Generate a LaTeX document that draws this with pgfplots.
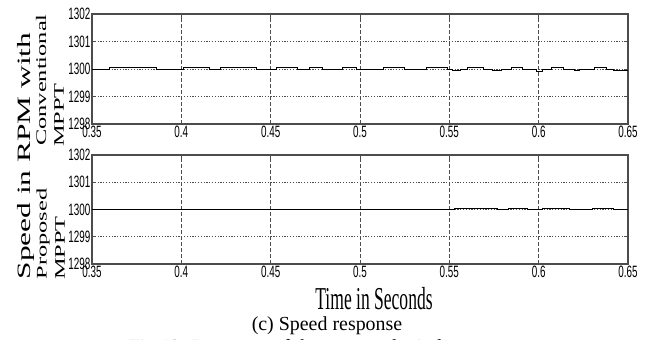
\documentclass[border=0pt]{standalone}
\usepackage{pgfplots}
\pgfplotsset{compat=1.18}
\usepackage{fontspec}
\setmainfont{Liberation Serif}
\newfontfamily\arialf{Liberation Sans}
\newfontfamily\timesf{Liberation Serif}
\newcommand\tl[1]{\scalebox{0.6}[1]{\arialf\fontsize{16.5}{16.5}\selectfont #1}}

\pgfplotstableread{
t v
0.350 1300.00
0.360 1300.05
0.386 1300.00
0.401 1300.05
0.416 1300.00
0.422 1300.05
0.442 1300.00
0.453 1300.05
0.465 1300.00
0.472 1300.05
0.479 1300.00
0.490 1300.05
0.498 1300.00
0.513 1300.05
0.525 1300.00
0.537 1300.05
0.549 1300.00
0.552 1299.94
0.556 1300.00
0.560 1300.05
0.569 1300.00
0.574 1299.93
0.579 1300.00
0.585 1300.05
0.591 1300.00
0.599 1299.92
0.602 1300.00
0.607 1300.05
0.614 1300.00
0.620 1299.93
0.623 1300.00
0.631 1300.05
0.638 1300.00
0.642 1299.95
0.650 1299.95
}\conv

\pgfplotstableread{
t v
0.350 1300.00
0.553 1300.04
0.577 1300.00
0.583 1300.04
0.594 1300.00
0.602 1300.04
0.617 1300.00
0.630 1300.04
0.642 1300.00
0.650 1300.00
}\prop

\pgfplotsset{
  speedax/.style={
    anchor=north west, scale only axis, width=536bp,
    xmin=0.35, xmax=0.65, ymin=1298, ymax=1302,
    xtick={0.35,0.4,0.45,0.5,0.55,0.6,0.65},
    xticklabels={\tl{0.35},\tl{0.4},\tl{0.45},\tl{0.5},\tl{0.55},\tl{0.6},\tl{0.65}},
    ytick={1298,1299,1300,1301,1302},
    yticklabels={\tl{1298},\tl{1299},\tl{1300},\tl{1301},\tl{1302}},
    tick align=inside, major tick length=4bp,
    tick style={black!70, line width=0.8pt},
    axis line style={black!70, line width=1.2pt},
    grid=major,
    x grid style={black!70, line width=0.8pt, dash pattern=on 4pt off 2pt},
    y grid style={black!70, line width=0.9pt, dash pattern=on 1.2pt off 1.6pt},
    xticklabel style={inner sep=1bp, yshift=-1bp},
    yticklabel style={inner sep=1.5bp},
  }
}

\begin{document}
\begin{tikzpicture}
\useasboundingbox (0,0) rectangle (651bp,-340bp);
\begin{axis}[speedax, at={(92bp,-14bp)}, height=110bp]
\addplot[const plot, black, line width=1pt] table[x=t,y=v] {\conv};
\end{axis}
\begin{axis}[speedax, at={(92bp,-155bp)}, height=109bp]
\addplot[const plot, black, line width=1pt] table[x=t,y=v] {\prop};
\end{axis}

\node[rotate=90] at (26bp,-156bp) {\scalebox{1}[0.6]{\timesf\fontsize{31.5}{31.5}\selectfont Speed in RPM with}};
\node[rotate=90] at (41bp,-80bp) {\scalebox{1}[0.6]{\timesf\fontsize{24.5}{24.5}\selectfont Conventional}};
\node[rotate=90] at (59bp,-115bp) {\scalebox{1}[0.6]{\timesf\fontsize{24.5}{24.5}\selectfont MPPT}};
\node[rotate=90] at (43bp,-234bp) {\scalebox{1}[0.6]{\timesf\fontsize{24.5}{24.5}\selectfont Proposed}};
\node[rotate=90] at (60bp,-248bp) {\scalebox{1}[0.6]{\timesf\fontsize{24.5}{24.5}\selectfont MPPT}};
\node[anchor=base, inner sep=0pt] at (374bp,-309bp) {\scalebox{0.55}[1]{\timesf\fontsize{32}{32}\selectfont Time in Seconds}};
\node[anchor=base, inner sep=0pt] at (327bp,-330bp) {\timesf\fontsize{20}{20}\selectfont (c) Speed response};
\node[anchor=base, inner sep=0pt] at (345bp,-353bp) {\timesf\fontsize{20}{20}\selectfont Fig.12. Response of the proposed wind energy system};
\end{tikzpicture}
\end{document}
